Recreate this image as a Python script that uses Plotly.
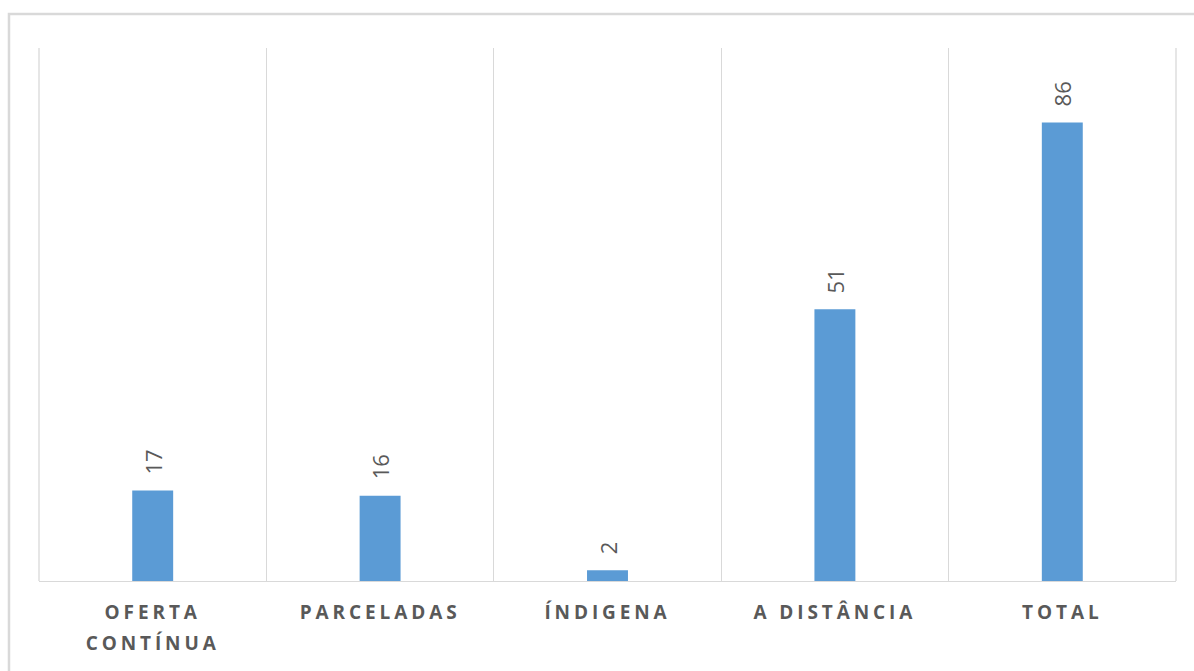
import plotly.graph_objects as go

categories = ["OFERTA<br>CONTÍNUA", "PARCELADAS", "ÍNDIGENA", "A DISTÂNCIA", "TOTAL"]
values = [17, 16, 2, 51, 86]
value_labels = [str(v) for v in values]

BAR = "#5b9bd5"
TXT = "#595959"
GRID = "#d9d9d9"

fig = go.Figure()
fig.add_trace(go.Bar(x=categories, y=values, marker=dict(color=BAR, line=dict(width=0)),
                     width=0.18, hoverinfo="x+y"))

for c, v, t in zip(categories, values, value_labels):
    fig.add_annotation(x=c, y=v, text=t, textangle=-90, showarrow=False,
                       yanchor="bottom", yshift=14,
                       font=dict(family="Open Sans", size=22, color=TXT))

# outer chart frame
fig.add_shape(type="rect", xref="paper", yref="paper", x0=-0.0264, y0=-0.4, x1=1.2, y1=1.0638,
              line=dict(color=GRID, width=2.5), layer="below")
# outer category boundary lines (left and right edges of plot area)
for xp in (0, 1):
    fig.add_shape(type="line", xref="paper", yref="paper", x0=xp, x1=xp, y0=0, y1=1,
                  line=dict(color=GRID, width=1.3), layer="below")

fig.update_layout(
    width=1194, height=671,
    margin=dict(l=39, r=18, t=48, b=90),
    paper_bgcolor="white", plot_bgcolor="white",
    showlegend=False,
    xaxis=dict(type="category", tickson="boundaries", showgrid=True, gridcolor=GRID, gridwidth=1.3,
               ticks="", showline=True, linecolor=GRID, linewidth=1.3,
               tickfont=dict(family="Open Sans", size=19, color=TXT, weight="bold"),
               ticklabelstandoff=14,
               range=[-0.5, 4.5]),
    yaxis=dict(range=[0, 100], showgrid=False, showticklabels=False, zeroline=False, showline=False),
)

post = """
document.body.style.margin='0';
document.querySelectorAll('.xtick text').forEach(function(t){
  t.style.letterSpacing='3.9px';
  var ls = t.querySelectorAll('tspan.line');
  for (var i=1;i<ls.length;i++){ ls[i].setAttribute('dy','1.65em'); }
});
"""
fig.write_html("out.html", post_script=post, config={"displayModeBar": False})
